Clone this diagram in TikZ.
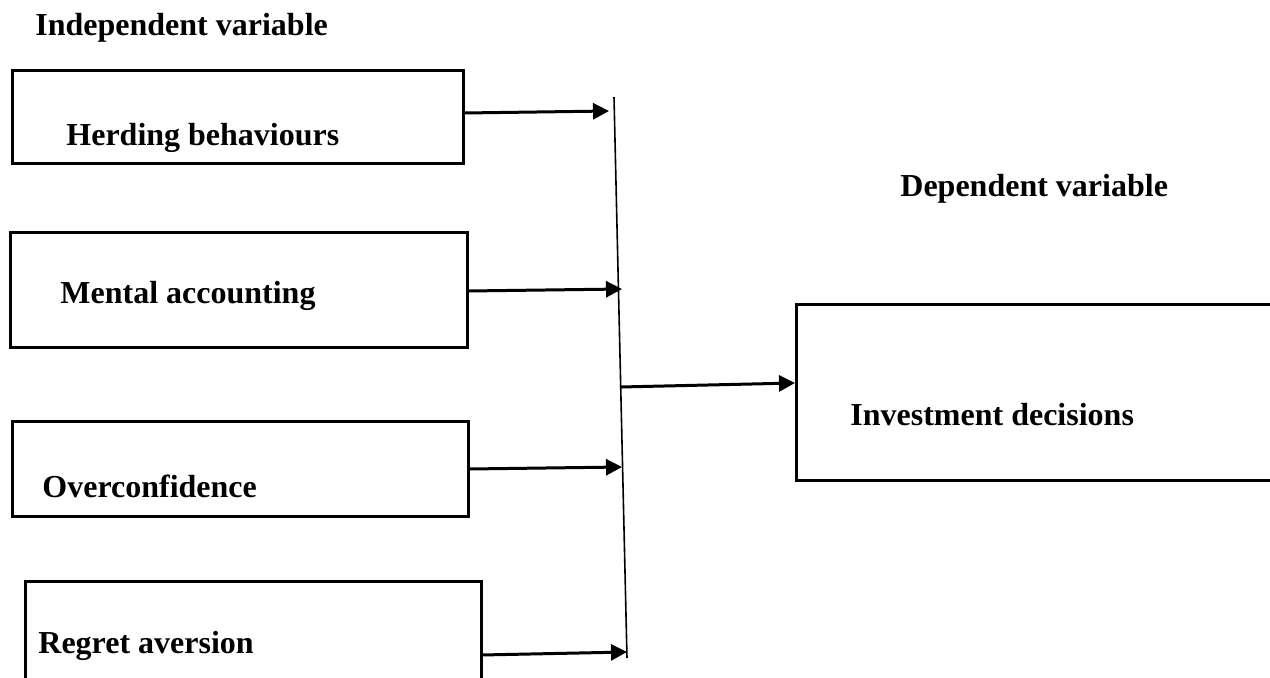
\documentclass[tikz,border=0pt]{standalone}
\usepackage{fontspec}
\setmainfont{Liberation Serif}
\usetikzlibrary{arrows.meta}
\begin{document}
\begin{tikzpicture}[x=0.5pt,y=-0.5pt,
  box/.style={draw,line width=1.5pt},
  lbl/.style={anchor=west,inner sep=0pt,font=\fontsize{16}{19}\selectfont\bfseries},
  conn/.style={line width=1.5pt,-{Triangle[length=8pt,width=8pt]}},
  bar/.style={line width=0.8pt}]
\useasboundingbox (0,0) rectangle (1270,677);
\clip (0,0) rectangle (1270,677);
\fill[white] (0,0) rectangle (1270,677);
% boxes
\draw[box] (12,70) rectangle (463,163);
\draw[box] (10,232) rectangle (467,347);
\draw[box] (12,421) rectangle (468,516);
\draw[box] (25,581) rectangle (481,700);
\draw[box] (796,304) rectangle (1300,480);
% labels
\node[lbl] (iv) at (35,28) {Independent variable};
\node[lbl] (dv) at (900,189) {Dependent variable};
\node[lbl] (hb) at (66,138) {Herding behaviours};
\node[lbl] (ma) at (60,296) {Mental accounting};
\node[lbl] (oc) at (42,486) {Overconfidence};
\node[lbl] (ra) at (38,646) {Regret aversion};
\node[lbl] (id) at (850,415) {Investment decisions};
% vertical bar
\coordinate (top) at (614,97);
\coordinate (bot) at (627,658);
\draw[bar] (top) -- (bot);
% connector points
\coordinate (s1) at (463,113); \coordinate (e1) at (609,111);
\coordinate (s2) at (467,291); \coordinate (e2) at (622,289);
\coordinate (s3) at (468,469); \coordinate (e3) at (622,467);
\coordinate (s4) at (481,655); \coordinate (e4) at (627,652);
\coordinate (s5) at (620,387); \coordinate (e5) at (795,383);
\draw[conn] (s1) -- (e1);
\draw[conn] (s2) -- (e2);
\draw[conn] (s3) -- (e3);
\draw[conn] (s4) -- (e4);
\draw[conn] (s5) -- (e5);
\end{tikzpicture}
\end{document}
